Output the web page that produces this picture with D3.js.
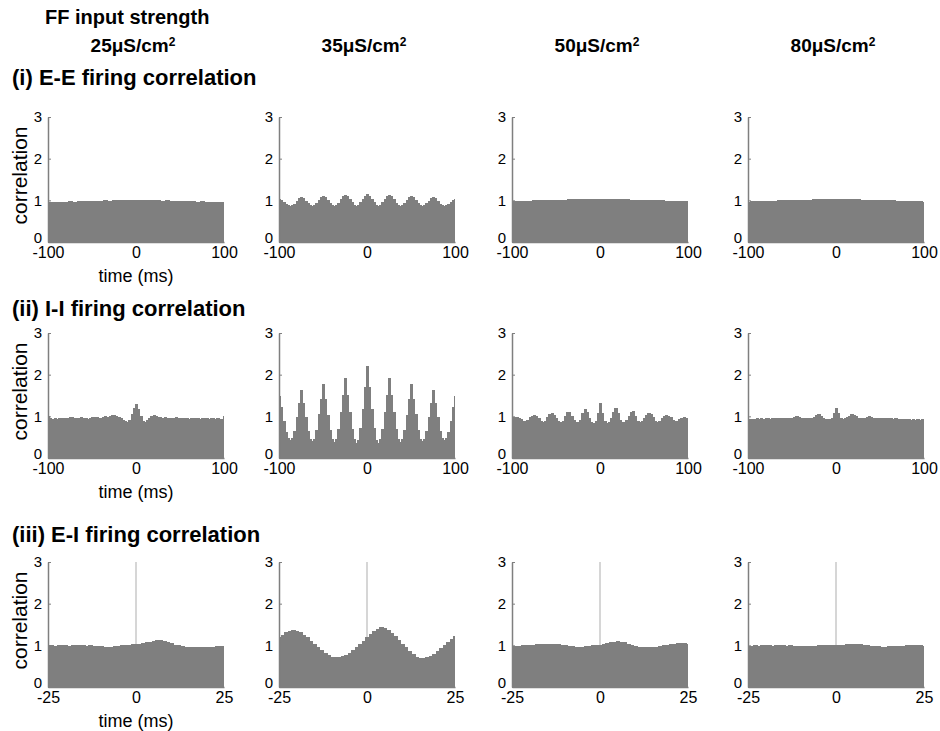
<!DOCTYPE html>
<html>
<head>
<meta charset="utf-8">
<script src="https://cdn.jsdelivr.net/npm/d3@7"></script>
<style>
  body { margin: 0; background: #fff; }
  text { font-family: Arial, "Liberation Sans", sans-serif; }
</style>
</head>
<body>
<svg id="fig" width="940" height="731"></svg>
<script>
'use strict';

// FF input strength, one column each
var strengths = ['25μS/cm', '35μS/cm', '50μS/cm', '80μS/cm'];
var rowTitles = ['(i) E-E firing correlation', '(ii) I-I firing correlation', '(iii) E-I firing correlation'];
var rowRanges = [[-100, 100], [-100, 100], [-25, 25]];
var yTicks = [0, 1, 2, 3];

// (i) E-E, lag -100..100 ms
var ee25 = [0.96,0.97,0.96,0.97,0.97,0.98,0.97,0.98,0.98,0.99,
  0.98,0.99,0.99,1.00,0.99,1.00,1.00,1.01,1.00,1.01,
  1.01,1.01,1.00,1.01,1.00,1.00,0.99,1.00,0.99,0.99,
  0.98,0.99,0.98,0.98,0.97,0.98,0.97,0.97,0.96,0.97,
  0.96];
var ee35 = [1.04,1.02,0.97,0.92,0.88,0.86,0.88,0.92,0.99,1.05,1.08,
  1.05,0.99,0.93,0.88,0.86,0.88,0.93,1.01,1.07,1.10,
  1.07,1.00,0.93,0.88,0.86,0.88,0.94,1.03,1.10,1.14,
  1.11,1.03,0.95,0.89,0.87,0.89,0.95,1.04,1.11,1.15,
  1.11,1.04,0.95,0.89,0.87,0.89,0.95,1.03,1.10,1.14,
  1.10,1.03,0.94,0.88,0.86,0.88,0.93,1.00,1.07,1.10,
  1.07,1.01,0.93,0.88,0.86,0.88,0.93,0.99,1.05,1.08,
  1.05,0.99,0.92,0.88,0.86,0.88,0.92,0.97,1.02,1.04];
var ee50 = [0.98,0.98,0.99,0.99,0.99,1.00,1.00,1.00,1.01,1.01,
  1.01,1.02,1.02,1.03,1.03,1.03,1.04,1.04,1.04,1.04,
  1.04,1.04,1.04,1.04,1.03,1.03,1.03,1.02,1.02,1.01,
  1.01,1.01,1.00,1.00,1.00,0.99,0.99,0.99,0.98,0.98,
  0.98];
var ee80 = [0.97,0.98,0.98,0.98,0.99,0.99,0.99,1.00,1.00,1.00,
  1.01,1.01,1.02,1.02,1.02,1.03,1.03,1.03,1.04,1.04,
  1.04,1.04,1.04,1.03,1.03,1.03,1.02,1.02,1.02,1.01,
  1.01,1.00,1.00,1.00,0.99,0.99,0.99,0.98,0.98,0.98,
  0.97];

// (ii) I-I, lag -100..100 ms
var ii25 = [1.00,0.95,0.93,0.95,0.94,0.96,0.95,0.97,0.95,0.96,
  0.98,0.99,0.97,0.95,0.97,0.98,0.96,0.95,0.94,0.96,
  0.98,0.99,0.98,0.97,0.96,0.98,1.00,0.99,1.01,1.03,
  1.03,1.01,0.99,0.96,0.92,0.88,0.86,0.92,1.05,1.20,
  1.30,
  1.18,1.02,0.90,0.86,0.91,0.97,1.02,1.03,1.01,0.99,
  0.98,0.97,0.99,0.97,0.96,0.95,0.97,0.98,0.96,0.95,
  0.96,0.97,0.95,0.94,0.96,0.97,0.95,0.96,0.94,0.95,
  0.96,0.95,0.93,0.95,0.96,0.94,0.95,0.93,0.94,1.00];
var ii35 = [1.50,1.22,0.90,0.62,0.47,0.43,0.47,0.65,0.98,1.32,1.64,
  1.32,0.98,0.64,0.46,0.41,0.46,0.68,1.05,1.42,1.78,
  1.42,1.04,0.68,0.46,0.39,0.45,0.70,1.10,1.52,1.92,
  1.52,1.10,0.70,0.45,0.37,0.44,0.72,1.18,1.70,2.22,
  1.70,1.18,0.72,0.44,0.37,0.45,0.70,1.10,1.52,1.92,
  1.52,1.10,0.70,0.45,0.39,0.46,0.68,1.04,1.42,1.78,
  1.42,1.05,0.68,0.46,0.41,0.46,0.64,0.98,1.32,1.64,
  1.32,0.98,0.65,0.47,0.43,0.47,0.62,0.90,1.22,1.50];
var ii50 = [0.97,0.98,0.98,0.97,0.93,0.89,0.88,0.92,0.98,1.02,
  1.04,1.01,0.95,0.89,0.87,0.90,0.98,1.06,1.08,1.03,
  0.95,0.89,0.87,0.90,1.00,1.11,1.10,1.01,0.92,0.87,
  0.86,0.92,1.08,1.18,1.10,0.96,0.87,0.84,0.88,1.08,
  1.32,
  1.07,0.88,0.84,0.87,0.96,1.10,1.19,1.08,0.92,0.86,
  0.87,0.92,1.01,1.10,1.12,1.00,0.90,0.87,0.89,0.95,
  1.03,1.08,1.06,0.98,0.90,0.87,0.89,0.95,1.01,1.04,
  1.02,0.98,0.92,0.88,0.89,0.93,0.97,0.98,0.96,0.90];
var ii80 = [0.93,0.94,0.93,0.94,0.95,0.94,0.95,0.94,0.95,0.95,
  0.94,0.95,0.96,0.95,0.96,0.95,0.96,0.97,0.96,0.97,
  0.97,0.98,1.00,0.99,0.97,0.96,0.97,0.96,0.95,0.96,
  0.98,1.03,1.05,1.02,0.97,0.94,0.93,0.94,0.97,1.08,
  1.20,
  1.07,0.96,0.94,0.95,0.98,1.02,1.05,1.04,1.00,0.96,
  0.95,0.96,0.97,0.98,1.00,0.99,0.97,0.96,0.97,0.96,
  0.97,0.96,0.95,0.96,0.95,0.94,0.95,0.94,0.93,0.94,
  0.93,0.94,0.93,0.92,0.93,0.92,0.93,0.92,0.93,0.92];

// (iii) E-I, lag -25..25 ms
var ei25 = [1.00,1.01,0.99,1.00,1.01,1.00,0.99,1.00,1.01,1.00,
  1.00,0.99,1.00,0.99,0.98,0.98,0.97,0.96,0.97,0.98,
  0.99,1.01,1.02,1.01,1.03,1.03,1.04,1.05,1.07,1.09,
  1.11,1.12,1.12,1.11,1.09,1.05,1.02,1.00,0.98,0.97,
  0.97,0.96,0.96,0.97,0.96,0.95,0.96,0.95,0.98,0.99,
  0.99];
var ei35 = [1.20,1.26,1.31,1.35,1.36,1.35,1.31,1.26,1.19,1.11,
  1.03,0.95,0.88,0.81,0.76,0.73,0.72,0.73,0.74,0.76,
  0.81,0.88,0.96,1.04,1.11,1.19,1.27,1.34,1.40,1.43,
  1.42,1.37,1.30,1.22,1.13,1.04,0.95,0.86,0.79,0.73,
  0.70,0.70,0.71,0.74,0.79,0.86,0.93,1.01,1.09,1.16,
  1.22];
var ei50 = [0.98,0.99,0.99,1.00,1.01,1.02,1.02,1.03,1.03,1.04,
  1.04,1.04,1.03,1.03,1.02,1.01,0.99,0.98,0.97,0.97,
  0.97,0.98,0.99,1.00,1.01,1.02,1.04,1.06,1.08,1.09,
  1.10,1.09,1.07,1.04,1.01,0.98,0.96,0.95,0.95,0.95,
  0.96,0.97,0.99,1.01,1.02,1.03,1.04,1.05,1.05,1.05,
  1.04];
var ei80 = [0.99,0.99,1.00,0.99,1.00,1.00,1.00,0.99,1.00,1.00,
  1.00,0.99,1.00,0.99,0.99,0.99,0.99,0.98,0.99,0.99,
  1.00,1.00,1.00,1.00,1.00,1.01,1.01,1.02,1.03,1.04,
  1.04,1.04,1.03,1.02,1.00,0.99,0.98,0.98,0.97,0.97,
  0.98,0.98,0.99,0.99,0.99,1.00,1.00,1.00,1.00,1.00,
  0.99];

var panels = [
  [ee25, ee35, ee50, ee80],
  [ii25, ii35, ii50, ii80],
  [ei25, ei35, ei50, ei80]
];

//Layout
var colX = [48, 279, 512, 748];
var rowY = [117, 333, 562];
var plotW = 176;
var plotH = 125;
var barColor = '#7f7f7f';

var svg = d3.select('#fig');

//Header
svg.append('text').attr('x', 45).attr('y', 24).style('font-size', '20px').style('font-weight', 'bold').text('FF input strength');

strengths.forEach(function (s, i) {
  var t = svg.append('text').attr('x', colX[i] + plotW / 2 - 3).attr('y', 52)
    .style('font-size', '19px').style('font-weight', 'bold').style('text-anchor', 'middle');
  t.append('tspan').text(s);
  t.append('tspan').attr('dy', -6).style('font-size', '12px').text('2');
});

function drawPanel(values, r, c) {
  var range = rowRanges[r];
  var step = (range[1] - range[0]) / (values.length - 1);
  var g = svg.append('g').attr('transform', 'translate(' + colX[c] + ',' + rowY[r] + ')');

  var xScale = d3.scaleLinear().domain(range).range([0, plotW]);
  var yScale = d3.scaleLinear().domain([0, 3]).range([plotH, 0]);

  //zero-lag marker for E-I
  if (r === 2) {
    g.append('line').attr('x1', xScale(0)).attr('x2', xScale(0))
      .attr('y1', yScale(3)).attr('y2', yScale(0))
      .style('stroke', '#c8c8c8').style('stroke-width', 1.5);
  }

  //Bars, overlapped a little so no seams show
  g.selectAll('rect.bar').data(values).enter().append('rect').classed('bar', true)
    .attr('x', function (d, i) { return Math.max(0, xScale(range[0] + (i - 0.5) * step)); })
    .attr('width', function (d, i) {
      var x0 = Math.max(0, xScale(range[0] + (i - 0.5) * step));
      var x1 = Math.min(plotW, xScale(range[0] + (i + 0.5) * step));
      return x1 - x0 + (i < values.length - 1 ? 1 : 0);
    })
    .attr('y', function (d) { return yScale(d); })
    .attr('height', function (d) { return plotH - yScale(d); })
    .style('fill', barColor)
    .style('shape-rendering', 'crispEdges');

  //X axis
  var xAxis = g.append('g').attr('transform', 'translate(0,' + plotH + ')')
    .call(d3.axisBottom(xScale).tickValues([range[0], 0, range[1]]).tickSize(0).tickPadding(5)
      .tickFormat(function (d) { return String(d); }));
  xAxis.select('.domain').style('stroke', barColor).style('stroke-width', 1.5);
  xAxis.selectAll('text').style('font-size', '16px').style('fill', '#000');

  //Y axis
  var yAxis = g.append('g')
    .call(d3.axisLeft(yScale).tickValues(yTicks).tickSize(-3).tickSizeOuter(0).tickPadding(6)
      .tickFormat(d3.format('d')));
  yAxis.select('.domain').style('stroke', barColor).style('stroke-width', 1.5);
  yAxis.selectAll('.tick line').style('stroke', barColor);
  yAxis.selectAll('text').style('font-size', '15px').style('fill', '#000');
  //the 0 label sits just above the first time label
  yAxis.selectAll('.tick text').filter(function (d) { return d === 0; }).attr('dy', '0em');

  if (c === 0) {
    svg.append('text').attr('transform', 'translate(27,' + (rowY[r] + plotH / 2 - 4) + ') rotate(-90)')
      .style('font-size', '21px').style('text-anchor', 'middle').text('correlation');
    svg.append('text').attr('x', colX[0] + plotW / 2).attr('y', rowY[r] + plotH + 40)
      .style('font-size', '18px').style('text-anchor', 'middle').text('time (ms)');
  }
}

//Row titles
var titleY = [85, 316, 542];
rowTitles.forEach(function (t, r) {
  svg.append('text').attr('x', 12).attr('y', titleY[r]).style('font-size', '22px').style('font-weight', 'bold').text(t);
});

panels.forEach(function (row, r) {
  row.forEach(function (values, c) { drawPanel(values, r, c); });
});
</script>
</body>
</html>
